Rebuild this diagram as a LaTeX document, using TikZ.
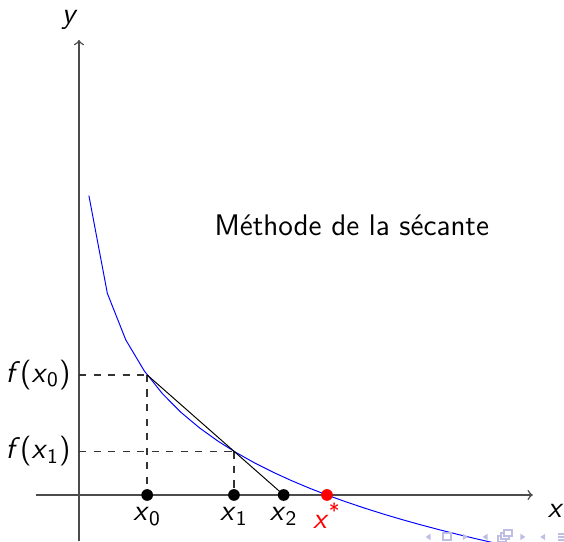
\documentclass[tikz,border=0pt]{standalone}
\usepackage{tikz}
\usetikzlibrary{positioning}
\definecolor{navcol}{RGB}{190,190,228}
\tikzset{
  dot/.style={circle, fill=black, inner sep=0pt, minimum size=0.17cm},
  guide/.style={dashed, gray!40!black, semithick},
  axis/.style={->, gray!60!black, semithick},
  nav/.style={fill=navcol, draw=none},
}
\newcommand{\vx}[1]{\textit{x}\textsubscript{#1}}
\begin{document}
\begin{tikzpicture}[x=0.9cm, y=0.9cm, font=\sffamily\fontsize{12.3}{14}\selectfont]
	\useasboundingbox (-1.274,-0.758) rectangle (7.823,7.984);
	% iterates
	\pgfmathsetmacro\xa{1.1}
	\pgfmathsetmacro\xb{2.5}
	\pgfmathsetmacro\ya{1.5*ln(4/\xa)}
	\pgfmathsetmacro\yb{1.5*ln(4/\xb)}
	\pgfmathsetmacro\xc{\xb-\yb*(\xb-\xa)/(\yb-\ya)}
	\coordinate (O) at (0,0);
	\coordinate (A) at (\xa,\ya);
	\coordinate (B) at (\xb,\yb);
	% axes
	\draw[axis] (-0.7,0) -- (7.32,0);
	\draw[axis] (0,-0.75) -- (0,7.34);
	\node (xlab) at (7.69,-0.25) {\textit{x}};
	\node (ylab) at (-0.15,7.66) {\textit{y}};
	% guides
	\draw[guide] (O |- A) -- (A);
	\draw[guide] (O |- B) -- (B);
	\node[left=0pt of {O |- A}] (fa) {\textit{f}(\vx{0})};
	\node[left=0pt of {O |- B}] (fb) {\textit{f}(\vx{1})};
	% curve and secant
	\draw[blue, domain=0.16:7, samples=24] plot (\x,{1.5*ln(4/\x)});
	\node[dot] (x0) at (\xa,0) {};
	\node[dot] (x1) at (\xb,0) {};
	\node[dot] (x2) at (\xc,0) {};
	\node[dot, fill=red] (xs) at (4,0) {};
	\draw[guide] (A) -- (x0);
	\draw[guide] (B) -- (x1);
	\draw (A) -- (x2.center);
	\node[below=-1pt of x0] (l0) {\vx{0}};
	\node[below=-1pt of x1] (l1) {\vx{1}};
	\node[below=-1pt of x2] (l2) {\vx{2}};
	\node[below=-3pt of xs, red] (ls) {\textit{x}\textsuperscript{*}};
	\node (titre) at (4.40,4.35) {Méthode de la sécante};
	% navigation
	\foreach \u in {5.63,6.55,7.48}
		\fill[nav] (\u-0.04,-0.677) -- (\u+0.04,-0.625) -- (\u+0.04,-0.729) -- cycle;
	\foreach \u in {6.23,7.16}
		\fill[nav] (\u+0.04,-0.677) -- (\u-0.04,-0.625) -- (\u-0.04,-0.729) -- cycle;
	\draw[navcol, thick] (5.87,-0.73) rectangle (6.0,-0.62);
	\foreach \d in {0,0.045,0.09}
		\draw[navcol, thick, fill=white] (6.76+\d,-0.75+\d) rectangle (6.89+\d,-0.66+\d);
	\foreach \v in {-0.635,-0.677,-0.719}
		\draw[navcol, thick] (7.72,\v) -- (7.83,\v);
\end{tikzpicture}
\end{document}
